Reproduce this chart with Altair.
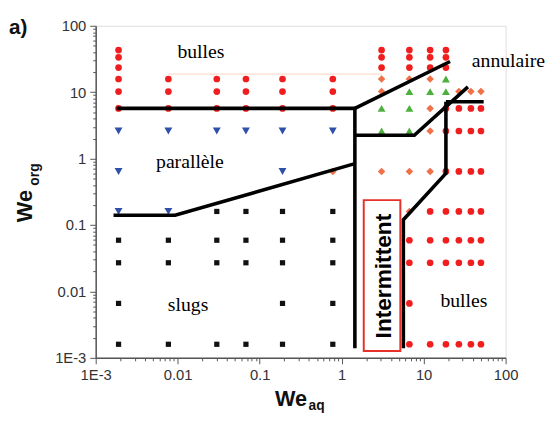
import altair as alt
import pandas as pd

# ---------------- data ----------------
# red dots : "bulles"
bulles_cols = [0.0019, 0.0077, 0.030, 0.068, 0.19, 0.78, 3.07, 6.7, 12, 18.7, 26.9, 37.7, 50]
bulles_rows = [
    [43, 33.5, 23.5, 15.8, 10.2, 5.7],
    [15.8, 10.2, 5.7],
    [15.8, 10.2, 5.7],
    [15.8, 10.2, 5.7],
    [15.8, 10.2, 5.7],
    [15.8, 10.2, 5.7],
    [43, 33.5, 23.5],
    [43, 33.5, 23.5, 0.059, 0.027, 0.0066, 0.0016],
    [43, 33.5, 23.5, 0.16, 0.059, 0.027, 0.0016],
    [43, 33.5, 23.5, 5.7, 2.6, 0.64, 0.16, 0.059, 0.027, 0.0016],
    [5.7, 2.6, 0.64, 0.16, 0.059, 0.027, 0.0016],
    [5.7, 2.6, 0.64, 0.16, 0.059, 0.027, 0.0016],
    [5.7, 2.6, 0.64, 0.16, 0.059, 0.027, 0.0016],
]
# orange diamonds
diam_cols = [0.78, 3.07, 6.7, 12, 26.9, 37.7, 50]
diam_rows = [
    [0.64],
    [15.8, 10.2, 0.64],
    [15.8, 0.64, 0.16],
    [15.8, 5.7, 2.6, 0.64],
    [10.2],
    [10.2],
    [10.2],
]
# green triangles : "annulaire"
ann_cols = [3.07, 6.7, 12, 18.7]
ann_rows = [
    [5.7, 2.6],
    [10.2, 5.7, 2.6],
    [10.2],
    [15.8, 10.2],
]
# blue triangles : "parallèle"
par_cols = [0.0019, 0.0077, 0.030, 0.068, 0.19, 0.78]
par_rows = [
    [2.6, 0.64, 0.16],
    [2.6, 0.16],
    [2.6],
    [2.6],
    [2.6, 0.64],
    [2.6],
]
# black squares : "slugs"
slug_cols = [0.0019, 0.0077, 0.030, 0.068, 0.19, 0.78]
slug_rows = [
    [0.059, 0.027, 0.0066, 0.0016],
    [0.059, 0.027, 0.0016],
    [0.16, 0.059, 0.027, 0.0016],
    [0.16, 0.059, 0.027, 0.0016],
    [0.16, 0.059, 0.027, 0.0066, 0.0016],
    [0.16, 0.059, 0.027, 0.0066, 0.0016],
]

# regime boundary lines
line_id = ["a", "a", "a", "b", "b", "c", "c", "c", "d", "d", "e", "e", "e", "e", "f", "f", "f"]
line_x = [0.0018, 1.45, 1.45, 1.45, 21, 1.45, 7.7, 34.7, 18.7, 54, 18.7, 18.7, 5.66, 5.66, 0.00165, 0.0093, 1.45]
line_y = [5.7, 5.7, 0.0014, 5.7, 29, 2.25, 2.25, 12.0, 7.2, 7.2, 7.2, 0.6, 0.12, 0.0014, 0.14, 0.14, 0.84]

faint_x = [0.0077, 3.07]
faint_y = [18.7, 18.7]

# Intermittent box
box_x = [1.86]
box_x2 = [5.2]
box_y = [0.237]
box_y2 = [0.00127]

# region labels
lab_text = ["bulles", "parallèle", "slugs", "bulles"]
lab_x = [0.0192, 0.0141, 0.0134, 31]
lab_y = [32.4, 0.73, 0.0050, 0.0059]
ann_text = ["annulaire"]
ann_x = [38.7]
ann_y = [23.8]
inter_text = ["Intermittent"]
inter_x = [3.25]
inter_y = [0.017]

majors = [0.001, 0.01, 0.1, 1, 10, 100]
tick_vals = [float(f"{k}e{e}") for e in range(-3, 2) for k in range(1, 10)] + [100.0]


def flatten(cols, rows):
    xs, ys = [], []
    for c, r in zip(cols, rows):
        for v in r:
            xs.append(c)
            ys.append(v)
    return pd.DataFrame({"x": xs, "y": ys})


major_test = "indexof([0.001,0.01,0.1,1,10,100], datum.value) >= 0"
label_expr = ("datum.value == 0.001 ? '1E-3' : (indexof([0.01,0.1,1,10,100], datum.value) >= 0 "
              "? '' + datum.value : '')")

xs = alt.Scale(type="log", domain=[0.001, 100], nice=False)
ys = alt.Scale(type="log", domain=[0.001, 100], nice=False)

common_axis = dict(
    values=tick_vals, labelExpr=label_expr, labelOverlap=False, labelFlush=False,
    grid=False, title=None, domainColor="#555555", domainWidth=1.5, tickColor="#555555",
    tickWidth=1, tickSize={"condition": {"test": major_test, "value": 6}, "value": 3},
    labelFont="Liberation Sans", labelFontSize=15, labelColor="#333333",
)
xaxis = alt.Axis(orient="bottom", labelPadding=4, **common_axis)
yaxis = alt.Axis(orient="left", labelPadding=4, **common_axis)


def X(field="x"):
    return alt.X(f"{field}:Q", scale=xs, axis=xaxis)


def Y(field="y"):
    return alt.Y(f"{field}:Q", scale=ys, axis=yaxis)


def pts(df, shape, color, size):
    return alt.Chart(df).mark_point(shape=shape, filled=True, color=color, size=size, opacity=1).encode(
        x=X(), y=Y())


p_bulles = pts(flatten(bulles_cols, bulles_rows), "circle", "#f01e1e", 46)
p_diam = pts(flatten(diam_cols, diam_rows), "diamond", "#f07048", 58)
p_ann = pts(flatten(ann_cols, ann_rows), "triangle-up", "#4daf3c", 64)
p_par = pts(flatten(par_cols, par_rows), "triangle-down", "#2e50a8", 64)
p_slug = pts(flatten(slug_cols, slug_rows), "square", "#111111", 28)

faint = alt.Chart(pd.DataFrame({"x": faint_x, "y": faint_y})).mark_line(
    color="#fbd3bd", strokeWidth=1).encode(x=X(), y=Y())

ldf = pd.DataFrame({"id": line_id, "x": line_x, "y": line_y, "o": list(range(len(line_x)))})
lines = alt.Chart(ldf).mark_line(color="black", strokeWidth=3.6, strokeJoin="miter").encode(
    x=X(), y=Y(), detail="id:N", order="o:Q")

box = alt.Chart(pd.DataFrame({"x": box_x, "x2": box_x2, "y": box_y, "y2": box_y2})).mark_rect(
    fill="white", stroke="#e8302a", strokeWidth=2).encode(
    x=X(), x2="x2:Q", y=Y(), y2="y2:Q")

inter = alt.Chart(pd.DataFrame({"x": inter_x, "y": inter_y, "t": inter_text})).mark_text(
    angle=270, font="Liberation Sans", fontWeight="bold", fontSize=23, color="black",
    align="center", baseline="middle").encode(x=X(), y=Y(), text="t:N")

labels = alt.Chart(pd.DataFrame({"x": lab_x, "y": lab_y, "t": lab_text})).mark_text(
    font="Liberation Serif", fontSize=20, color="black", align="center", baseline="alphabetic").encode(
    x=X(), y=Y(), text="t:N")

ann_lab = alt.Chart(pd.DataFrame({"x": ann_x, "y": ann_y, "t": ann_text})).mark_text(
    font="Liberation Serif", fontSize=20, color="black", align="left", baseline="alphabetic").encode(
    x=X(), y=Y(), text="t:N")

one = pd.DataFrame({"a": [0]})


def txt(s, px, py, size, angle=0, align="left", baseline="alphabetic"):
    kw = dict(font="Liberation Sans", fontWeight="bold", fontSize=size, color="#111111",
              align=align, baseline=baseline)
    if angle:
        kw["angle"] = angle
    return alt.Chart(one).mark_text(**kw).encode(x=alt.value(px), y=alt.value(py), text=alt.value(s))


t_a = txt("a)", -88, 8, 21)
t_xwe = txt("We", 182, 386, 22)
t_xsub = txt("aq", 216, 390, 14)
t_ywe = txt("We", -65, 183, 22, angle=270, align="center")
t_ysub = txt("org", -58, 151, 14, angle=270, align="center")

chart = alt.layer(
    p_bulles, p_diam, p_ann, p_par, p_slug, faint, lines, box, inter, labels, ann_lab,
    t_a, t_xwe, t_xsub, t_ywe, t_ysub,
).properties(
    width=416, height=337,
    autosize=alt.AutoSizeParams(type="none"),
    padding={"left": 89, "top": 15, "right": 42, "bottom": 56},
).configure_view(stroke=None).configure(background="white")

chart.save("out.html", embed_options={"renderer": "svg", "actions": False})
